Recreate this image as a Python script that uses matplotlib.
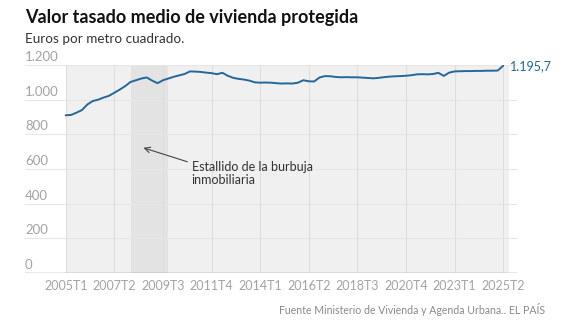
import numpy as np
import matplotlib.pyplot as plt
import matplotlib.transforms as mtransforms

plt.rcParams['font.family'] = ['Lato', 'DejaVu Sans']

# quarterly values, 2005T1 .. 2025T2
valores = [910, 912, 925, 940, 972, 992, 1000, 1012, 1022, 1040,
           1058, 1078, 1102, 1112, 1122, 1128, 1110, 1095, 1112, 1122,
           1132, 1140, 1148, 1163, 1162, 1160, 1156, 1153, 1147, 1155,
           1138, 1126, 1120, 1116, 1110, 1100, 1098, 1099, 1098, 1095,
           1093, 1094, 1093, 1098, 1112, 1106, 1105, 1128, 1136, 1135,
           1131, 1129, 1130, 1129, 1129, 1127, 1125, 1123, 1126, 1130,
           1133, 1135, 1136, 1138, 1141, 1146, 1147, 1146, 1148, 1155,
           1137, 1156, 1163, 1164, 1165, 1165, 1166, 1166, 1167, 1167,
           1168, 1195.7]
etiquetas_x = ['2005T1', '2007T2', '2009T3', '2011T4', '2014T1',
               '2016T2', '2018T3', '2020T4', '2023T1', '2025T2']
pos_x = [0, 9, 18, 27, 36, 45, 54, 63, 72, 81]
ticks_y = [0, 200, 400, 600, 800, 1000, 1200]
etiquetas_y = ['0', '200', '400', '600', '800', '1.000', '1.200']
crisis = (12, 19)

azul = '#23679b'
gris_txt = '#a3a3a3'

fig = plt.figure(figsize=(5.68, 3.26), dpi=100)
ax = fig.add_axes([25 / 568, 1 - 273 / 326, 492 / 568, 208 / 326])
x = np.arange(len(valores))

ax.set_xlim(-7.54, 83.56)
ax.set_ylim(0, 1200)

# background and crisis band
ax.axvspan(0, len(valores), color='#f0f0f0', zorder=0, lw=0)
ax.axvspan(crisis[0], crisis[1], color='#e3e3e3', zorder=0.5, lw=0)

for v in ticks_y[1:]:
    ax.axhline(v, color='#e6e6e6', lw=0.8, zorder=1)
for p in pos_x:
    ax.axvline(p, color='#dedede', lw=0.8, zorder=1)
ax.axhline(0, color='#8a8a8a', lw=1.0, zorder=3)

ax.plot(x, valores, color=azul, lw=1.4, zorder=4, solid_capstyle='round')

for s in ax.spines.values():
    s.set_visible(False)
ax.set_xticks(pos_x)
ax.set_xticklabels(etiquetas_x, color=gris_txt, fontsize=9)
ax.tick_params(axis='x', length=0, pad=5)
ax.set_yticks([])

trans = mtransforms.blended_transform_factory(ax.transAxes, ax.transData)
for v, t in zip(ticks_y, etiquetas_y):
    ax.text(0, v + 12, t, transform=trans, ha='left', va='bottom',
            color=gris_txt, fontsize=9.5)

ax.text(len(valores) + 0.3, valores[-1], '1.195,7', color=azul, fontsize=9,
        ha='left', va='center')

ax.annotate('', xy=(13.9, 727), xytext=(23.0, 637),
            arrowprops=dict(arrowstyle='->', color='#444444', lw=0.8))
ax.text(23.3, 648, 'Estallido de la burbuja\ninmobiliaria', color='#333333',
        fontsize=9, ha='left', va='top', linespacing=1.15)

fig.text(25 / 568, 1 - 17 / 326, 'Valor tasado medio de vivienda protegida',
         fontsize=13, fontweight='bold', color='#111111', va='center')
fig.text(25 / 568, 1 - 39 / 326, 'Euros por metro cuadrado.',
         fontsize=9.7, color='#333333', va='center')
fig.text(545 / 568, 1 - 310 / 326,
         'Fuente Ministerio de Vivienda y Agenda Urbana.. EL PAÍS',
         fontsize=7.6, color='#8a8a8a', ha='right', va='center')

fig.savefig('out.png', dpi=100)
